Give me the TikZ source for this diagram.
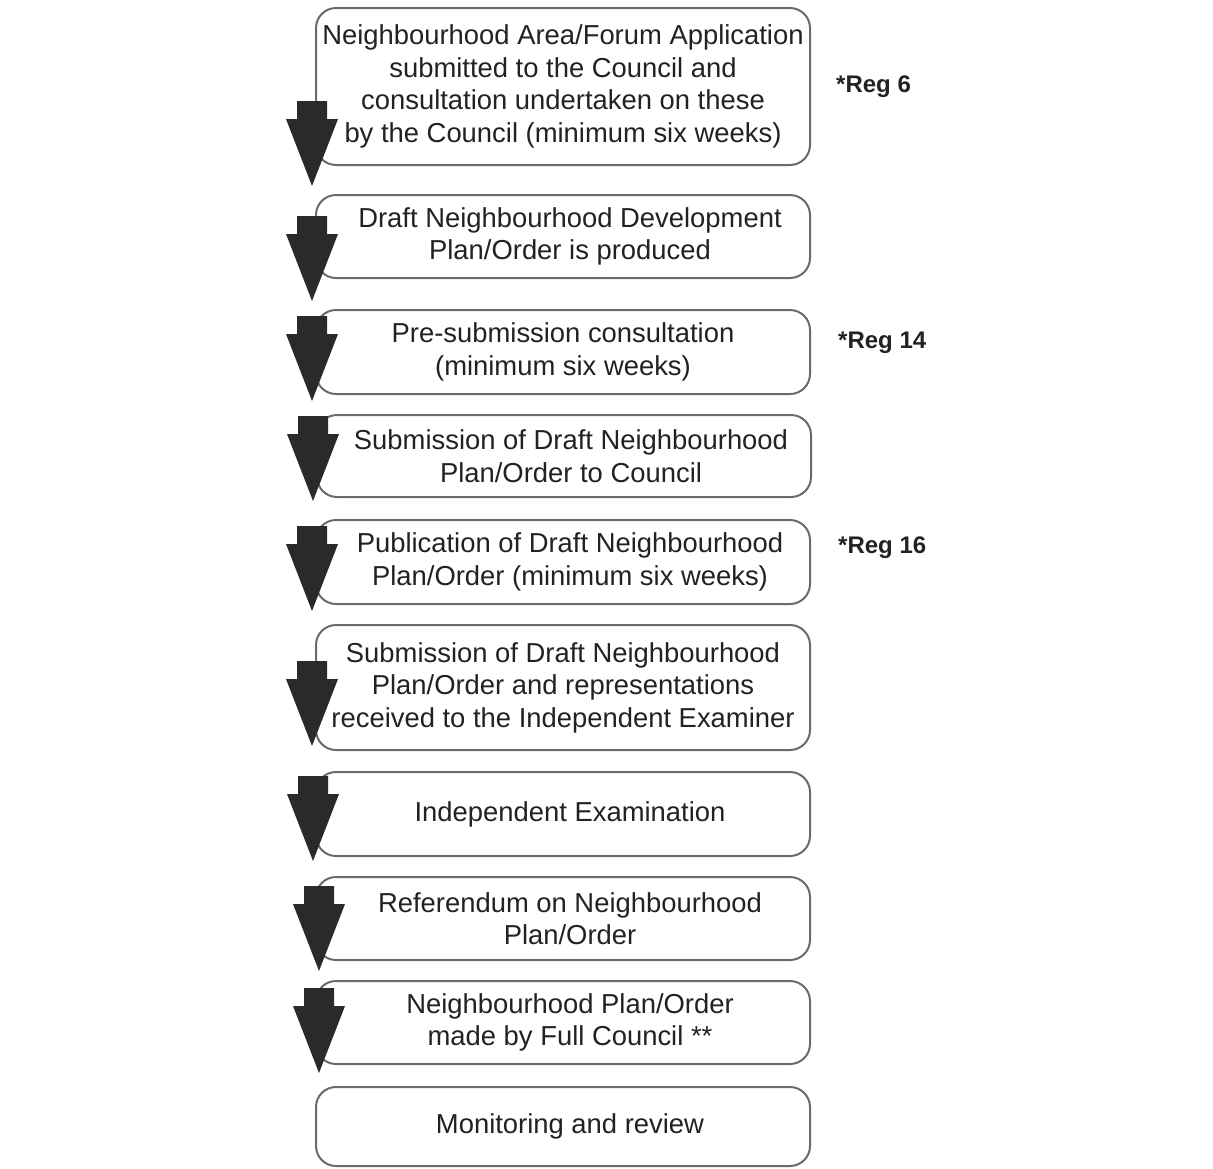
\documentclass[tikz,border=0pt]{standalone}
\usepackage{fontspec}
\setmainfont{Liberation Sans}
\usetikzlibrary{calc}
\definecolor{txtcol}{HTML}{222222}
\definecolor{boxline}{HTML}{6A6A6A}
\definecolor{arrowcol}{HTML}{2A2A2A}
\tikzset{
  stepbox/.style={draw=boxline, line width=2pt, rounded corners=20pt, fill=white,
    text width=490pt, inner sep=2pt, align=flush center, text=txtcol,
    font=\fontsize{27.4pt}{32.5pt}\selectfont},
  rightish/.style={execute at begin node={\leftskip=14pt plus 1fil\rightskip=0pt plus 1fil\parfillskip=0pt}},
  reglabel/.style={anchor=west, text=txtcol, inner sep=0pt,
    font=\fontsize{24pt}{27pt}\selectfont\bfseries},
  blockarrow/.style={fill=arrowcol, draw=none}
}
\newcommand{\downblock}[1]{%
  \fill[blockarrow] (#1) -- ++(-26,-67) -- ++(11,0) -- ++(0,-18) -- ++(30,0)
    -- ++(0,18) -- ++(11,0) -- cycle;}
\begin{document}
\begin{tikzpicture}[x=1pt, y=-1pt]
\useasboundingbox (0,0) rectangle (1213,1168);
\node[stepbox, minimum height=157pt] (b1) at (563,86.5)
  {Neighbourhood Area/Forum Application\\submitted to the Council and\\consultation undertaken on these\\by the Council (minimum six weeks)};
\node[stepbox, rightish, minimum height=83pt] (b2) at (563,236.5)
  {Draft Neighbourhood Development\\Plan/Order is produced};
\node[stepbox, minimum height=84pt] (b3) at (563,352)
  {Pre-submission consultation\\(minimum six weeks)};
\node[stepbox, rightish, minimum height=82pt] (b4) at (564,456)
  {Submission of Draft Neighbourhood\\Plan/Order to Council};
\node[stepbox, rightish, minimum height=84pt] (b5) at (563,562)
  {Publication of Draft Neighbourhood\\Plan/Order (minimum six weeks)};
\node[stepbox, minimum height=125pt] (b6) at (563,687.5)
  {Submission of Draft Neighbourhood\\Plan/Order and representations\\received to the Independent Examiner};
\node[stepbox, rightish, minimum height=84pt] (b7) at (563,814)
  {Independent Examination};
\node[stepbox, rightish, minimum height=83pt] (b8) at (563,918.5)
  {Referendum on Neighbourhood\\Plan/Order};
\node[stepbox, rightish, minimum height=83pt] (b9) at (563,1022.5)
  {Neighbourhood Plan/Order\\made by Full Council **};
\node[stepbox, rightish, minimum height=79pt] (b10) at (563,1126.5)
  {Monitoring and review};

\node[reglabel] (r6) at (836,87) {*Reg 6};
\node[reglabel] (r14) at (838,343) {*Reg 14};
\node[reglabel] (r16) at (838,548) {*Reg 16};

% block arrows leading from each step to the next
\coordinate (t1) at ($(b1.south west)+(-3,20)$);
\coordinate (t2) at ($(b2.south west)+(-3,22)$);
\coordinate (t3) at ($(b3.south west)+(-3,6)$);
\coordinate (t4) at ($(b4.south west)+(-3,3)$);
\coordinate (t5) at ($(b5.south west)+(-3,6)$);
\coordinate (t6) at ($(b6.south west)+(-3,-5)$);
\coordinate (t7) at ($(b7.south west)+(-2,4)$);
\coordinate (t8) at ($(b8.south west)+(4,10)$);
\coordinate (t9) at ($(b9.south west)+(4,8)$);
\foreach \t in {t1,t2,t3,t4,t5,t6,t7,t8,t9} {\downblock{\t}}
\end{tikzpicture}
\end{document}
